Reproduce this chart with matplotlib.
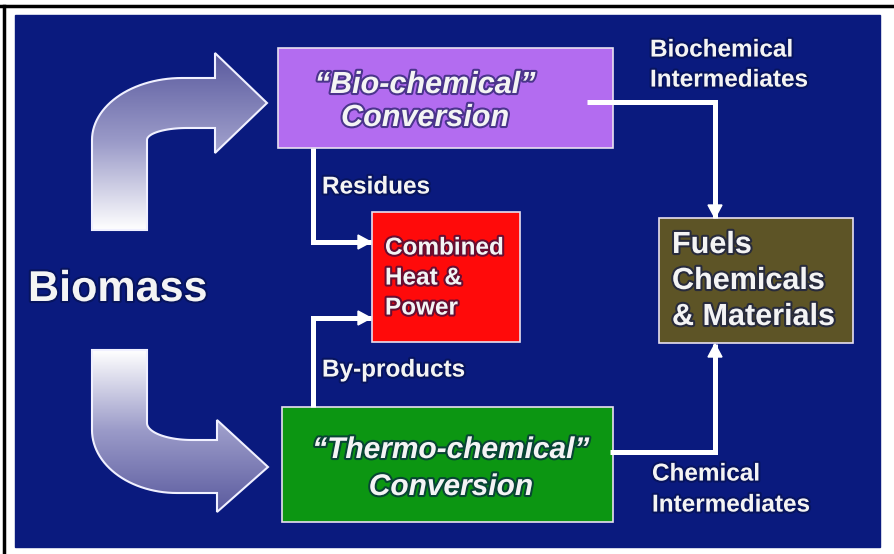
import matplotlib.pyplot as plt
import numpy as np
from matplotlib.path import Path
from matplotlib.patches import PathPatch, Rectangle, Polygon
from matplotlib.colors import LinearSegmentedColormap
import matplotlib.patheffects as pe

plt.rcParams['font.family'] = ['Liberation Sans', 'DejaVu Sans']

# Contenu du schéma
source_label = 'Biomass'
box_labels = ['\u201cBio-chemical\u201d\nConversion',
              'Combined\nHeat &\nPower',
              '\u201cThermo-chemical\u201d\nConversion',
              'Fuels\nChemicals\n& Materials']
box_colors = ['#b36cf0', '#ff0a0a', '#0c9612', '#5d5426']
flow_labels = ['Residues', 'By-products',
               'Biochemical\nIntermediates', 'Chemical\nIntermediates']

navy = '#0a1a7e'
txt = '#f4f4f4'
shadow = [pe.withStroke(linewidth=3, foreground='#06104a', alpha=0.6)]

fig = plt.figure(figsize=(8.94, 5.54), dpi=100)
ax = fig.add_axes([0, 0, 1, 1])
ax.set_xlim(0, 894)
ax.set_ylim(554, 0)
ax.axis('off')

# Cadre et fond bleu
ax.plot([0, 894], [6, 6], color='black', lw=2.5)
ax.plot([4, 4], [6, 554], color='black', lw=2.5)
ax.add_patch(Rectangle((15, 15), 865, 532, color=navy, zorder=0))


def draw_lines(lines, x, y0, step, size, ha='left', style='normal'):
    for i, line in enumerate(lines):
        ax.text(x, y0 + i * step, line, color=txt, fontsize=size,
                fontweight='bold', style=style, ha=ha, va='center',
                path_effects=shadow, zorder=6)


# Boîtes
boxes = [(278, 48, 335, 100), (372, 212, 148, 130),
         (282, 407, 331, 115), (659, 218, 194, 125)]
for (x, y, w, h), c in zip(boxes, box_colors):
    ax.add_patch(Rectangle((x, y), w, h, facecolor=c, edgecolor='#e8e0f0',
                           lw=1.2, zorder=3))

draw_lines(box_labels[0].split('\n'), 425, 85, 33, 22, ha='center', style='italic')
draw_lines(box_labels[1].split('\n'), 385, 248, 30, 17.5)
draw_lines(box_labels[2].split('\n'), 451, 450, 37, 21.5, ha='center', style='italic')
draw_lines(box_labels[3].split('\n'), 672, 245, 36, 22)

draw_lines([flow_labels[0]], 322, 187, 0, 17.5)
draw_lines([flow_labels[1]], 322, 370, 0, 17.5)
draw_lines(flow_labels[2].split('\n'), 650, 50, 30, 17.5)
draw_lines(flow_labels[3].split('\n'), 652, 474, 31, 17.5)

ax.text(28, 290, source_label, color=txt, fontsize=31, fontweight='bold',
        ha='left', va='center', path_effects=shadow, zorder=6)


# Connecteurs blancs avec pointe
def connector(xs, ys):
    ax.plot(xs, ys, color='white', lw=3.6, solid_joinstyle='miter',
            solid_capstyle='butt', zorder=4)
    x1, y1, x2, y2 = xs[-2], ys[-2], xs[-1], ys[-1]
    d = np.array([x2 - x1, y2 - y1], float)
    d /= np.hypot(*d)
    n = np.array([-d[1], d[0]])
    tip = np.array([x2, y2])
    base = tip - 13 * d
    ax.add_patch(Polygon([tip, base + 7 * n, base - 7 * n], color='white', zorder=4))


connector([587, 715, 715], [102, 102, 218])
connector([610, 715, 715], [452, 452, 344])
connector([313, 313, 371], [148, 242, 242])
connector([313, 313, 371], [407, 318, 318])


# Flèches courbes en dégradé
def arc(cx, cy, rx, ry, t0, t1, n=30):
    t = np.linspace(t0, t1, n)
    return list(zip(cx + rx * np.cos(t), cy + ry * np.sin(t)))


up_pts = ([(92, 230)] + arc(182, 140, 90, 62, np.pi, 1.5 * np.pi)
          + [(215, 78), (215, 53), (267, 103), (215, 153), (215, 128)]
          + arc(187, 140, 40, 12, 1.5 * np.pi, np.pi) + [(147, 230)])
down_pts = ([(92, 350)] + arc(177, 430, 85, 63, np.pi, 0.5 * np.pi)
            + [(217, 493), (217, 512), (268, 467), (217, 420), (217, 440)]
            + arc(192, 423, 45, 17, 0.5 * np.pi, np.pi) + [(147, 350)])

cmap = LinearSegmentedColormap.from_list('arrow', ['#5a5a9e', '#9a9ac8', '#ffffff'])
grad = np.linspace(0, 1, 256).reshape(-1, 1)

for pts, y_top, y_bot, flip in [(up_pts, 53, 230, False), (down_pts, 350, 512, True)]:
    path = Path(pts + [pts[0]], closed=True)
    patch = PathPatch(path, facecolor='none', edgecolor='#f0f0ff', lw=1.5, zorder=5)
    ax.add_patch(patch)
    g = grad[::-1] if flip else grad
    im = ax.imshow(g, cmap=cmap, extent=(80, 280, y_bot, y_top), aspect='auto',
                   origin='upper' if not flip else 'upper', zorder=4)
    im.set_clip_path(patch)

ax.set_xlim(0, 894)
ax.set_ylim(554, 0)

fig.savefig('out.png', dpi=100)
